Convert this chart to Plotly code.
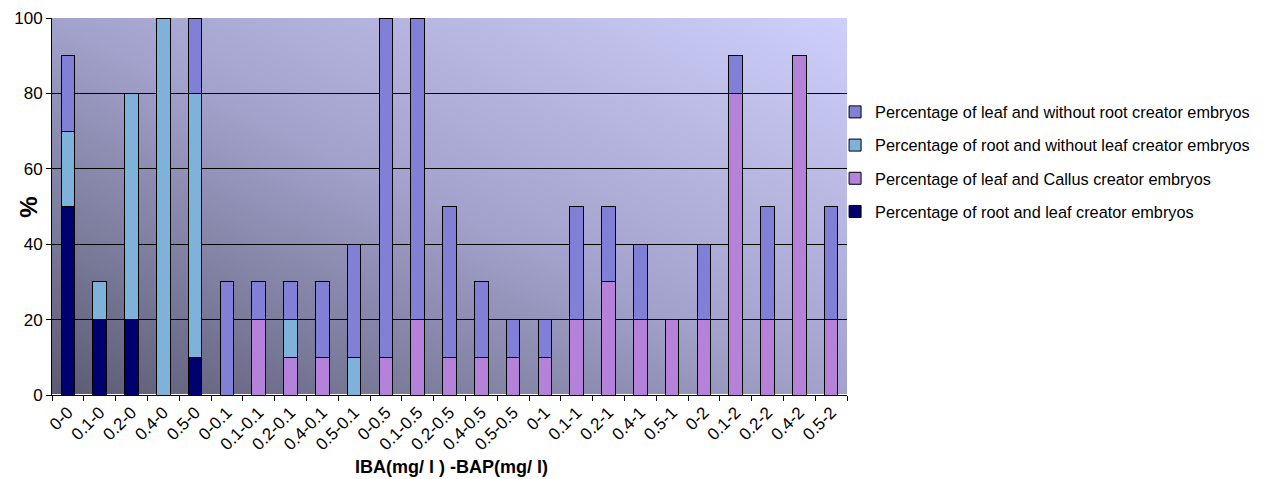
import base64
import plotly.graph_objects as go

categories = ["0-0", "0.1-0", "0.2-0", "0.4-0", "0.5-0",
              "0-0.1", "0.1-0.1", "0.2-0.1", "0.4-0.1", "0.5-0.1",
              "0-0.5", "0.1-0.5", "0.2-0.5", "0.4-0.5", "0.5-0.5",
              "0-1", "0.1-1", "0.2-1", "0.4-1", "0.5-1",
              "0-2", "0.1-2", "0.2-2", "0.4-2", "0.5-2"]

root_and_leaf = [50, 20, 20, 0, 10, 0, 0, 0, 0, 0, 0, 0, 0, 0, 0, 0, 0, 0, 0, 0, 0, 0, 0, 0, 0]
leaf_and_callus = [0, 0, 0, 0, 0, 0, 20, 10, 10, 0, 10, 20, 10, 10, 10, 10, 20, 30, 20, 20, 20, 80, 20, 90, 20]
root_without_leaf = [20, 10, 60, 100, 70, 0, 0, 10, 0, 10, 0, 0, 0, 0, 0, 0, 0, 0, 0, 0, 0, 0, 0, 0, 0]
leaf_without_root = [20, 0, 0, 0, 20, 30, 10, 10, 20, 30, 90, 80, 40, 20, 10, 10, 30, 20, 20, 0, 20, 10, 30, 0, 30]

series = [
    ("Percentage of root and leaf creator embryos", root_and_leaf, "#00006e"),
    ("Percentage of leaf and Callus creator embryos", leaf_and_callus, "#b482d8"),
    ("Percentage of root and without leaf creator embryos", root_without_leaf, "#7fb2da"),
    ("Percentage of leaf and without root creator embryos", leaf_without_root, "#7f80d6"),
]

fig = go.Figure()
for i, (name, vals, col) in enumerate(series):
    fig.add_trace(go.Bar(
        x=categories, y=vals, name=name, legendgroup=f"g{i}",
        legendrank=1000 - i,
        marker=dict(color=col, line=dict(color="black", width=1)),
    ))

svg = """<svg xmlns='http://www.w3.org/2000/svg' width='800' height='380' preserveAspectRatio='none'>
<defs><linearGradient id='g' x1='0' y1='1' x2='1' y2='0'>
<stop offset='0' stop-color='#5b5b73'/>
<stop offset='0.5' stop-color='#a2a2cc'/>
<stop offset='1' stop-color='#cfcffb'/>
</linearGradient></defs>
<rect width='800' height='380' fill='url(#g)'/></svg>"""
src = "data:image/svg+xml;base64," + base64.b64encode(svg.encode()).decode()

# page has an 8px body margin, so the figure is 8px smaller than the window
fig.update_layout(
    barmode="stack",
    bargap=0.57,
    width=1257, height=471,
    margin=dict(l=44, r=410, t=10, b=84),
    paper_bgcolor="white",
    plot_bgcolor="rgba(0,0,0,0)",
    font=dict(family="Liberation Sans, Arial, sans-serif", color="black"),
    images=[dict(source=src, xref="x domain", yref="y domain", x=0, y=1,
                 sizex=1, sizey=1, sizing="stretch", layer="below",
                 xanchor="left", yanchor="top")],
    legend=dict(x=0.985, y=0.7963, xanchor="left", yanchor="top",
                traceorder="grouped", tracegroupgap=9,
                font=dict(size=16.3), bgcolor="rgba(0,0,0,0)"),
    xaxis=dict(tickangle=-45, tickfont=dict(size=17), tickson="boundaries",
               ticks="outside", ticklen=5, tickcolor="black", automargin=False,
               showline=True, linecolor="black", linewidth=1),
    yaxis=dict(range=[0, 100], dtick=20, tickfont=dict(size=17), automargin=False,
               ticklabeloverflow="allow",
               ticks="outside", ticklen=5, tickcolor="black",
               showline=True, linecolor="black", linewidth=1,
               showgrid=True, gridcolor="black", gridwidth=1),
    annotations=[
        dict(text="<b>%</b>", xref="paper", yref="paper", x=-0.0299, y=0.497,
             textangle=-90, showarrow=False, font=dict(size=24),
             xanchor="center", yanchor="middle"),
        dict(text="<b>IBA(mg/ l ) -BAP(mg/ l)</b>", xref="paper", yref="paper",
             x=0.502, y=-0.19, showarrow=False, font=dict(size=18),
             xanchor="center", yanchor="middle"),
    ],
)

fig.write_html("out.html")
